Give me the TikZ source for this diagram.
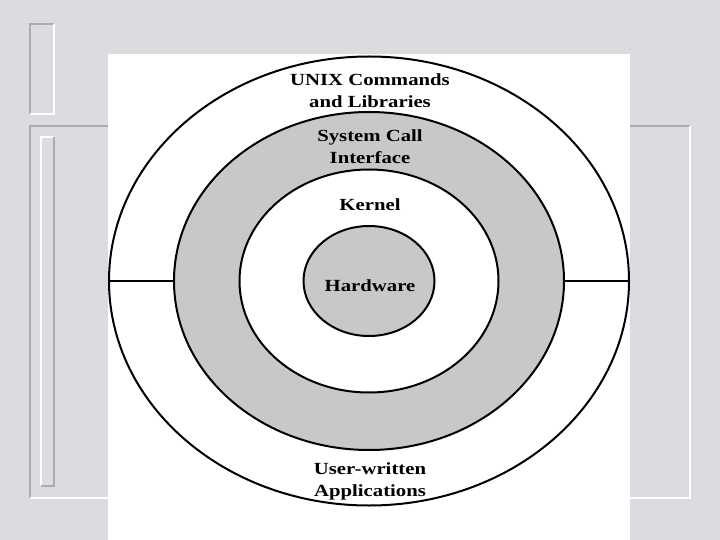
\documentclass[tikz,border=0pt]{standalone}
\usepackage{fontspec}
\setmainfont{Liberation Serif}[FakeStretch=1.22]
\usepackage{tikz}
\usetikzlibrary{shapes.geometric}

\begin{document}
\begin{tikzpicture}[x=1pt, y=-1pt,
 every text node part/.style={align=center},
 ring/.style={ellipse, inner sep=0pt, draw=black, line width=2pt},
 lbl/.style={inner sep=0pt, font=\fontsize{17}{22}\selectfont\bfseries},
 divider/.style={line width=1.5pt},
 hi/.style={draw=white, line width=2pt},
 lo/.style={draw=gray!65, line width=2pt}]

    \definecolor{marble}{RGB}{220,220,224}
    \definecolor{layer}{RGB}{200,200,200}

	% slide background and frame
	\fill[marble] (0,0) rectangle (720,540);
	\useasboundingbox (0,0) rectangle (720,540);
	\draw[lo] (30,114) -- (30,24) -- (54,24);
	\draw[hi] (54,24) -- (54,114) -- (30,114);
	\draw[lo] (30,498) -- (30,126) -- (690,126);
	\draw[hi] (690,126) -- (690,498) -- (30,498);
	\draw[hi] (41,486) -- (41,137) -- (54,137);
	\draw[lo] (54,137) -- (54,486) -- (41,486);
	\fill[white] (108,54) rectangle (630,540);

	\node[ring, minimum width=520pt, minimum height=449pt] (outer) at (369,281) {};
	\node[ring, fill=layer, minimum width=390pt, minimum height=338pt] (syscall) at (369,281) {};
	\node[ring, fill=white, minimum width=259pt, minimum height=223pt] (kernel) at (369,281) {};
	\node[ring, fill=layer, minimum width=131pt, minimum height=110pt] (hardware) at (369,281) {};

	\draw[divider] (outer.west) -- (syscall.west);
	\draw[divider] (syscall.east) -- (outer.east);

	\node[lbl] (cmds) at (370,91) {UNIX Commands\\ and Libraries};
	\node[lbl] (sci) at (370,147) {System Call\\ Interface};
	\node[lbl] (kern) at (370,205) {Kernel};
	\node[lbl] (hw) at (370,286) {Hardware};
	\node[lbl] (apps) at (370,481) {User-written\\ Applications};
\end{tikzpicture}
\end{document}
